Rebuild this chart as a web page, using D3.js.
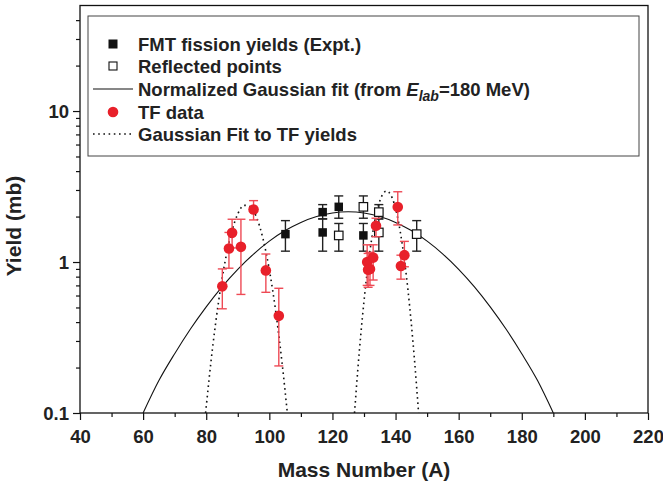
<!DOCTYPE html>
<html>
<head>
<meta charset="utf-8">
<script src="https://cdn.jsdelivr.net/npm/d3@7"></script>
<style>
  html, body { margin: 0; padding: 0; background: #fff; }
  svg { display: block; font-family: "Liberation Sans", Arial, sans-serif; font-weight: bold; }
</style>
</head>
<body>
<svg id="chart" width="663" height="484"></svg>
<script>
// Fission fragment mass distribution: FMT yields, their reflection, TF data and fits

// FMT fission yields (Expt.)
const fmtMass = [105.1, 116.9, 116.9, 122.0, 129.8];
const fmtYield = [1.53, 2.14, 1.57, 2.32, 1.50];
const fmtLow = [1.18, 1.93, 1.18, 1.95, 1.18];
const fmtHigh = [1.88, 2.40, 1.93, 2.74, 1.80];

// Reflected points
const refMass = [146.7, 134.7, 134.7, 129.8, 122.0];
const refYield = [1.53, 2.14, 1.57, 2.32, 1.50];
const refLow = [1.18, 1.93, 1.18, 1.95, 1.18];
const refHigh = [1.88, 2.40, 1.93, 2.74, 1.80];

// TF data
const tfMass = [85.1, 87.2, 88.2, 91.0, 95.0, 98.9, 103.0, 131.0, 131.3, 131.9, 132.9, 133.8, 140.7, 141.7, 142.8];
const tfYield = [0.69, 1.23, 1.56, 1.26, 2.23, 0.88, 0.44, 1.00, 0.89, 0.90, 1.07, 1.74, 2.31, 0.94, 1.11];
const tfLow = [0.49, 0.91, 1.24, 0.61, 1.90, 0.63, 0.205, 0.70, 0.68, 0.70, 0.76, 1.47, 1.76, 0.77, 0.93];
const tfHigh = [0.90, 1.57, 1.92, 1.92, 2.55, 1.13, 0.67, 1.30, 1.14, 1.16, 1.30, 1.95, 2.92, 1.11, 1.37];

// Normalized Gaussian fit (from E_lab = 180 MeV)
const fitMass = [60, 65, 70, 75, 80, 85, 90, 95, 100, 105, 110, 115, 120, 125, 130, 135, 140, 145, 150, 155, 160, 165, 170, 175, 180, 185, 190];
const fitYield = [0.1, 0.164, 0.247, 0.360, 0.505, 0.685, 0.895, 1.129, 1.375, 1.615, 1.830, 2.002, 2.112, 2.15, 2.112, 2.002, 1.830, 1.615, 1.375, 1.129, 0.895, 0.685, 0.505, 0.360, 0.247, 0.164, 0.1];

// Gaussian fit to TF yields: light and heavy fragment peaks
const tfFitLightMass = [79.8, 82, 84, 86, 88, 90, 92, 94, 96, 98, 100, 102, 104, 105.7];
const tfFitLightYield = [0.1, 0.269, 0.563, 1.013, 1.566, 2.08, 2.374, 2.33, 1.965, 1.424, 0.887, 0.475, 0.218, 0.1];
const tfFitHeavyMass = [127.0, 128, 130, 132, 134, 136, 137.15, 138, 140, 142, 144, 146, 147.3];
const tfFitHeavyYield = [0.1, 0.189, 0.550, 1.235, 2.13, 2.825, 2.95, 2.88, 2.26, 1.362, 0.632, 0.225, 0.1];

// Axis ticks
const xTicks = [40, 60, 80, 100, 120, 140, 160, 180, 200, 220];
const xMinorTicks = [50, 70, 90, 110, 130, 150, 170, 190, 210];
const yTicks = [0.1, 1, 10];
const yTickLabels = ["0.1", "1", "10"];
const yMinorTicks = [0.2, 0.3, 0.4, 0.5, 0.6, 0.7, 0.8, 0.9, 2, 3, 4, 5, 6, 7, 8, 9, 20, 30, 40];

const legendLabels = ["FMT fission yields (Expt.)", "Reflected points", "Normalized Gaussian fit (from ", "TF data", "Gaussian Fit to TF yields"];

const RED = "#e8202a";
const RED_BAR = "#ee4a55";

const svg = d3.select("#chart");
const plotLeft = 80, plotRight = 648, plotTop = 5.5, plotBottom = 413;

const x = d3.scaleLinear().domain([40, 220]).range([plotLeft, plotRight]);
const y = d3.scaleLog().domain([0.1, 50]).range([plotBottom, plotTop]);

// Clip region for curves
svg.append("clipPath").attr("id", "plotClip")
  .append("rect").attr("x", plotLeft).attr("y", plotTop)
  .attr("width", plotRight - plotLeft).attr("height", plotBottom - plotTop);

// Axes
const xAxis = svg.append("g").attr("transform", `translate(0,${plotBottom})`)
  .call(d3.axisBottom(x).tickValues(xTicks).tickSize(7).tickSizeOuter(0).tickFormat(d3.format("d")));
const xMinor = svg.append("g").attr("transform", `translate(0,${plotBottom})`)
  .call(d3.axisBottom(x).tickValues(xMinorTicks).tickSize(4).tickSizeOuter(0).tickFormat(""));
const yAxis = svg.append("g").attr("transform", `translate(${plotLeft},0)`)
  .call(d3.axisLeft(y).tickValues(yTicks).tickSize(7).tickSizeOuter(0).tickFormat((d, i) => yTickLabels[i]));
const yMinor = svg.append("g").attr("transform", `translate(${plotLeft},0)`)
  .call(d3.axisLeft(y).tickValues(yMinorTicks).tickSize(4).tickSizeOuter(0).tickFormat(""));

[xAxis, xMinor, yAxis, yMinor].forEach(g => {
  g.select(".domain").remove();
  g.selectAll(".tick line").attr("stroke", "#111").attr("stroke-width", 1.2);
});
xAxis.selectAll(".tick text")
  .attr("font-size", 18.5).attr("font-weight", "bold").attr("fill", "#222")
  .attr("font-family", "Liberation Sans, Arial, sans-serif").attr("dy", 0).attr("y", 30);
yAxis.selectAll(".tick text")
  .attr("font-size", 18.5).attr("font-weight", "bold").attr("fill", "#222")
  .attr("font-family", "Liberation Sans, Arial, sans-serif").attr("x", -11).attr("dy", "0.36em");

// Plot frame
svg.append("rect").attr("x", plotLeft).attr("y", plotTop)
  .attr("width", plotRight - plotLeft).attr("height", plotBottom - plotTop)
  .attr("fill", "none").attr("stroke", "#111").attr("stroke-width", 1.3);

// Axis titles
svg.append("text").attr("x", (plotLeft + plotRight) / 2).attr("y", 477).attr("text-anchor", "middle")
  .attr("font-size", 21).attr("fill", "#222").text("Mass Number (A)");
svg.append("text").attr("transform", "translate(21,226) rotate(-90)").attr("text-anchor", "middle")
  .attr("font-size", 21).attr("fill", "#222").text("Yield (mb)");

const plot = svg.append("g").attr("clip-path", "url(#plotClip)");

const line = d3.line().x(d => x(d[0])).y(d => y(d[1])).curve(d3.curveMonotoneX);

// Normalized Gaussian fit
plot.append("path").datum(d3.zip(fitMass, fitYield)).attr("d", line)
  .attr("fill", "none").attr("stroke", "#111").attr("stroke-width", 1.1);

// Gaussian fits to TF yields
[[tfFitLightMass, tfFitLightYield], [tfFitHeavyMass, tfFitHeavyYield]].forEach(([m, v]) => {
  plot.append("path").datum(d3.zip(m, v)).attr("d", line)
    .attr("fill", "none").attr("stroke", "#111").attr("stroke-width", 1.6)
    .attr("stroke-dasharray", "1.6,3.6");
});

// Error bars helper
function errorBars(g, mass, low, high, color, cap) {
  mass.forEach((m, i) => {
    const cx = x(m);
    g.append("line").attr("x1", cx).attr("x2", cx).attr("y1", y(low[i])).attr("y2", y(high[i]))
      .attr("stroke", color).attr("stroke-width", 1.4);
    [low[i], high[i]].forEach(v => {
      g.append("line").attr("x1", cx - cap).attr("x2", cx + cap).attr("y1", y(v)).attr("y2", y(v))
        .attr("stroke", color).attr("stroke-width", 1.4);
    });
  });
}

const marks = svg.append("g");
errorBars(marks, fmtMass, fmtLow, fmtHigh, "#222", 4.5);
errorBars(marks, refMass, refLow, refHigh, "#222", 4.5);

const sq = 8.5;
marks.selectAll(".fmt").data(d3.range(fmtMass.length)).join("rect")
  .attr("x", i => x(fmtMass[i]) - sq / 2).attr("y", i => y(fmtYield[i]) - sq / 2)
  .attr("width", sq).attr("height", sq).attr("fill", "#111");
marks.selectAll(".ref").data(d3.range(refMass.length)).join("rect")
  .attr("x", i => x(refMass[i]) - sq / 2).attr("y", i => y(refYield[i]) - sq / 2)
  .attr("width", sq).attr("height", sq).attr("fill", "#fff").attr("stroke", "#111").attr("stroke-width", 1.2);

errorBars(marks, tfMass, tfLow, tfHigh, RED_BAR, 4.5);
marks.selectAll(".tf").data(d3.range(tfMass.length)).join("circle")
  .attr("cx", i => x(tfMass[i])).attr("cy", i => y(tfYield[i])).attr("r", 5.3).attr("fill", RED);

// Legend
const legend = svg.append("g");
legend.append("rect").attr("x", 88).attr("y", 16).attr("width", 551).attr("height", 140)
  .attr("fill", "#fff").attr("stroke", "#444").attr("stroke-width", 1);
const rows = [44, 66, 89, 112, 134];
const symX = 113, textX = 138;
legend.append("rect").attr("x", symX - 4.5).attr("y", rows[0] - 4.5).attr("width", 9).attr("height", 9).attr("fill", "#111");
legend.append("rect").attr("x", symX - 4).attr("y", rows[1] - 4).attr("width", 8).attr("height", 8)
  .attr("fill", "#fff").attr("stroke", "#111").attr("stroke-width", 1.1);
legend.append("line").attr("x1", 93).attr("x2", 133).attr("y1", rows[2]).attr("y2", rows[2])
  .attr("stroke", "#111").attr("stroke-width", 1.1);
legend.append("circle").attr("cx", symX).attr("cy", rows[3]).attr("r", 5.3).attr("fill", RED);
legend.append("line").attr("x1", 93).attr("x2", 133).attr("y1", rows[4]).attr("y2", rows[4])
  .attr("stroke", "#111").attr("stroke-width", 1.6).attr("stroke-dasharray", "1.6,3.6");

rows.forEach((ry, i) => {
  const t = legend.append("text").attr("x", textX).attr("y", ry + 7).attr("font-size", 18.5).attr("fill", "#222");
  t.append("tspan").text(legendLabels[i]);
  if (i === 2) {
    t.append("tspan").attr("font-style", "italic").text("E");
    t.append("tspan").attr("font-style", "italic").attr("font-size", 14).attr("dy", 5).text("lab");
    t.append("tspan").attr("dy", -5).text("=180 MeV)");
  }
});
</script>
</body>
</html>
